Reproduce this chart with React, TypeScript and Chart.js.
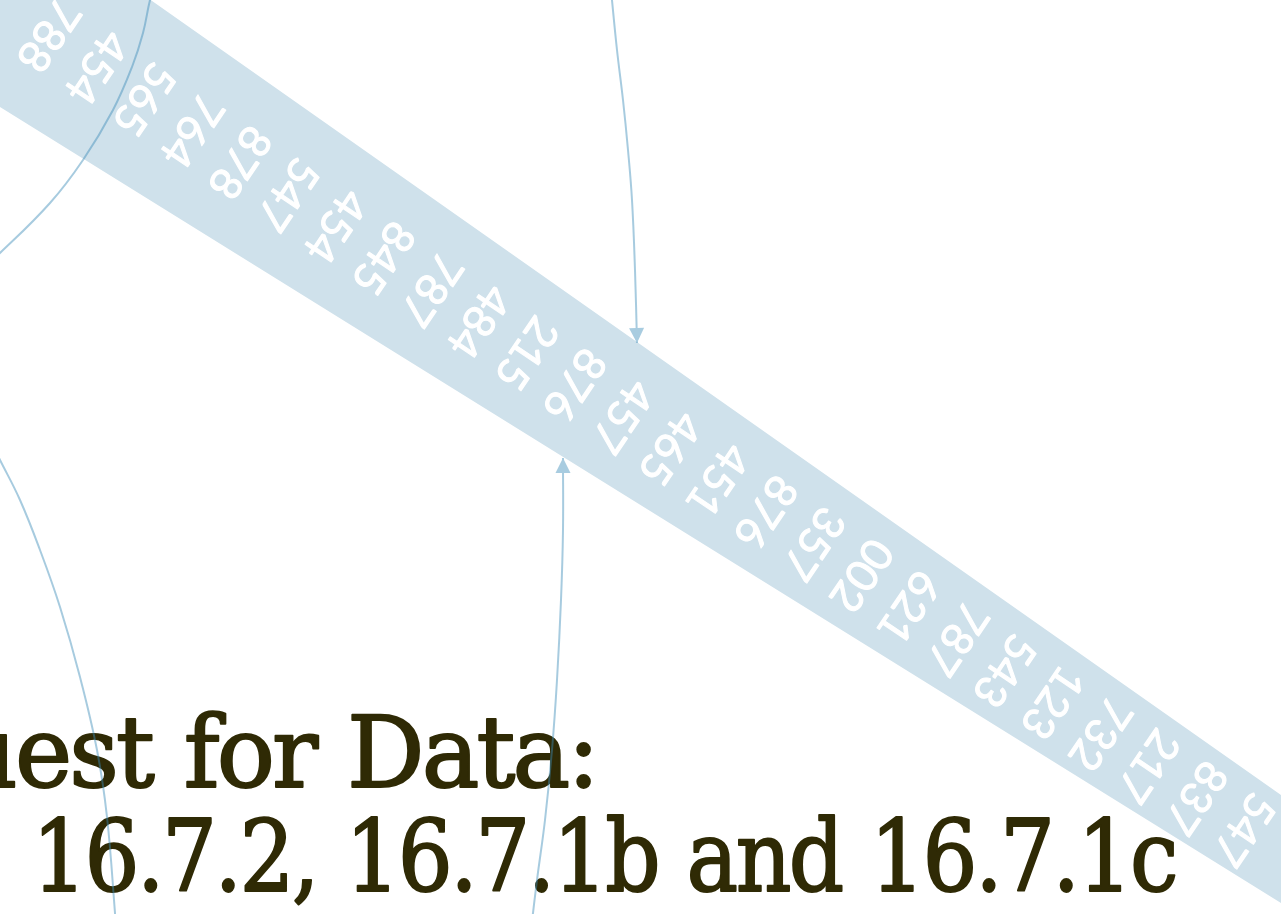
import React, { useEffect, useRef } from 'react';
import { Chart, registerables } from 'chart.js';

Chart.register(...registerables);

const W = 1281;
const H = 914;

// Numbers written across the band, in order along it
const bandNumbers = ['788', '454', '565', '764', '878', '547', '454', '845', '787', '484', '215', '876', '457', '465', '451', '876', '357', '002', '621', '787', '543', '123', '732', '217', '837', '547'];

// Band edges
const bandTop = [{ x: 0, y: -106 }, { x: 1281, y: 795 }];
const bandBottom = [{ x: 0, y: 107 }, { x: 1281, y: 903 }];

// First and last number centres along the band
const labelStart = { x: 48, y: 35 };
const labelEnd = { x: 1243, y: 829 };

// Curved connector lines
const arrowFromTop = [{ x: 611, y: -10 }, { x: 617, y: 50 }, { x: 623, y: 100 }, { x: 628, y: 150 }, { x: 632, y: 200 }, { x: 635, y: 270 }, { x: 637, y: 343 }];
const arrowFromBottom = [{ x: 531, y: 930 }, { x: 537, y: 880 }, { x: 545, y: 820 }, { x: 552, y: 750 }, { x: 557, y: 680 }, { x: 561, y: 600 }, { x: 563, y: 530 }, { x: 563, y: 458 }];
const arcLeftTop = [{ x: 155, y: -15 }, { x: 150, y: 0 }, { x: 143, y: 33 }, { x: 132, y: 67 }, { x: 113, y: 110 }, { x: 83, y: 160 }, { x: 50, y: 203 }, { x: 0, y: 253 }, { x: -25, y: 275 }];
const arcLeftBottom = [{ x: -10, y: 440 }, { x: 0, y: 460 }, { x: 20, y: 500 }, { x: 40, y: 550 }, { x: 60, y: 607 }, { x: 80, y: 677 }, { x: 97, y: 750 }, { x: 107, y: 817 }, { x: 115, y: 913 }, { x: 116, y: 930 }];

const titleLine1 = 'Request for Data:';
const titleLine1Visible = 'est for Data:';
const titleLine2 = '16.7.2, 16.7.1b and 16.7.1c';

const BAND_COLOR = '#cfe1eb';
const LINE_COLOR = 'rgba(60,140,185,0.45)';
const ARROW_COLOR = '#a8cce0';
const TITLE_COLOR = '#2f2a05';

const labelPositions = bandNumbers.map((_, i) => ({
  x: labelStart.x + ((labelEnd.x - labelStart.x) * i) / (bandNumbers.length - 1),
  y: labelStart.y + ((labelEnd.y - labelStart.y) * i) / (bandNumbers.length - 1),
}));

const drawPlugin = {
  id: 'bandDecor',
  afterDatasetDraw(chart: any, args: any) {
    const ds: any = chart.data.datasets[args.index];
    const ctx: any = chart.ctx;
    if (ds.role === 'numbers') {
      const meta = chart.getDatasetMeta(args.index);
      ctx.save();
      ctx.fillStyle = '#ffffff';
      ctx.strokeStyle = '#ffffff';
      ctx.lineWidth = 1;
      ctx.lineJoin = 'round';
      ctx.font = 'normal 44px Lato, "Open Sans", sans-serif';
      ctx.textAlign = 'center';
      ctx.textBaseline = 'middle';
      meta.data.forEach((pt: any, i: number) => {
        ctx.save();
        ctx.translate(pt.x, pt.y);
        ctx.rotate((124 * Math.PI) / 180);
        ctx.fillText(bandNumbers[i], 0, 0);
        ctx.strokeText(bandNumbers[i], 0, 0);
        ctx.restore();
      });
      ctx.restore();

      // Title text
      ctx.save();
      ctx.fillStyle = TITLE_COLOR;
      ctx.strokeStyle = TITLE_COLOR;
      ctx.lineWidth = 2;
      ctx.lineJoin = 'round';
      ctx.font = 'normal 100px "DejaVu Serif", serif';
      ctx.letterSpacing = '-3px';
      ctx.wordSpacing = '4px';
      ctx.textBaseline = 'alphabetic';
      ctx.textAlign = 'left';
      const w2 = ctx.measureText(titleLine2).width;
      const sx2 = (1176 - 32) / w2;
      ctx.save();
      ctx.translate(32, 891);
      ctx.scale(sx2, 1);
      ctx.fillText(titleLine2, 0, 0);
      ctx.strokeText(titleLine2, 0, 0);
      ctx.restore();
      const wVis = ctx.measureText(titleLine1Visible).width;
      const w1 = ctx.measureText(titleLine1).width;
      const sx1 = (597 - 15) / wVis;
      ctx.save();
      ctx.translate(597 - w1 * sx1, 787);
      ctx.scale(sx1, 1);
      ctx.fillText(titleLine1, 0, 0);
      ctx.strokeText(titleLine1, 0, 0);
      ctx.restore();
      ctx.restore();
    }
    if (ds.arrow) {
      const meta = chart.getDatasetMeta(args.index);
      const pts = meta.data;
      const tip = pts[pts.length - 1];
      const prev = pts[pts.length - 2];
      const ang = Math.atan2(tip.y - prev.y, tip.x - prev.x);
      const len = 15;
      const half = 7.5;
      ctx.save();
      ctx.fillStyle = ARROW_COLOR;
      ctx.translate(tip.x, tip.y);
      ctx.rotate(ang);
      ctx.beginPath();
      ctx.moveTo(0, 0);
      ctx.lineTo(-len, -half);
      ctx.lineTo(-len, half);
      ctx.closePath();
      ctx.fill();
      ctx.restore();
    }
  },
};

const curve = (data: any[], arrow: boolean) => ({
  data,
  showLine: true,
  borderColor: LINE_COLOR,
  borderWidth: 2,
  tension: 0.4,
  pointRadius: 0,
  fill: false,
  order: 1,
  arrow,
});

export default function App() {
  const ref = useRef<HTMLCanvasElement>(null);
  useEffect(() => {
    if (!ref.current) return;
    const chart = new Chart(ref.current, {
      type: 'scatter',
      data: {
        datasets: [
          {
            data: [...bandTop, ...bandBottom.slice().reverse()],
            showLine: true,
            fill: 'shape',
            backgroundColor: BAND_COLOR,
            borderColor: BAND_COLOR,
            borderWidth: 0,
            pointRadius: 0,
            tension: 0,
            order: 10,
          } as any,
          {
            data: labelPositions,
            showLine: false,
            pointRadius: 0,
            order: 9,
            role: 'numbers',
          } as any,
          curve(arrowFromTop, true) as any,
          curve(arrowFromBottom, true) as any,
          curve(arcLeftTop, false) as any,
          curve(arcLeftBottom, false) as any,
        ],
      },
      options: {
        responsive: false,
        animation: false,
        events: [],
        layout: { padding: 0 },
        scales: {
          x: { type: 'linear', min: 0, max: W, display: false },
          y: { type: 'linear', min: 0, max: H, reverse: true, display: false },
        },
        plugins: {
          legend: { display: false },
          tooltip: { enabled: false },
          title: { display: false },
        },
      },
      plugins: [drawPlugin],
    });
    return () => chart.destroy();
  }, []);

  return (
    <div style={{ position: 'fixed', left: 0, top: 0, width: W, height: H, background: '#ffffff' }}>
      <canvas ref={ref} width={W} height={H} style={{ display: 'block' }} />
    </div>
  );
}
